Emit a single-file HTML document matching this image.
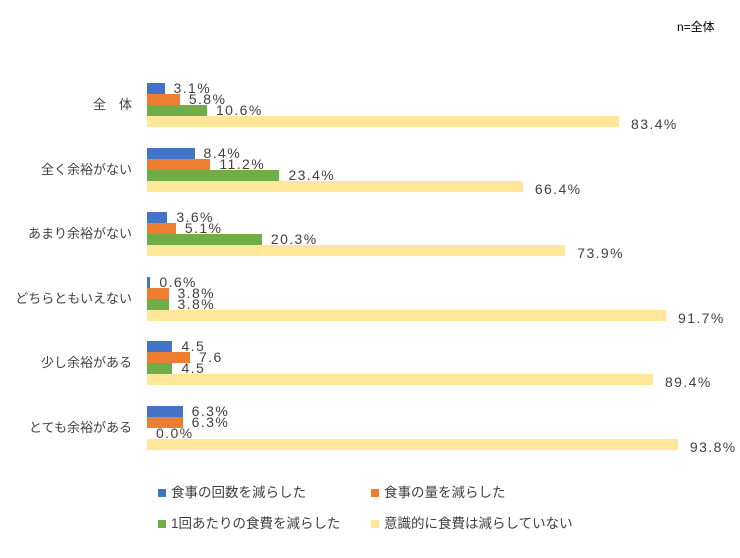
<!DOCTYPE html><html><head><meta charset="utf-8"><style>
body{margin:0;background:#fff;width:740px;height:558px;overflow:hidden;font-family:"Liberation Sans","Noto Sans CJK JP",sans-serif;color:#404040}
.a{position:absolute}
.b{position:absolute;height:11px}
.t{position:absolute;font-size:14px;line-height:14px;white-space:nowrap;letter-spacing:1.4px}
.l{position:absolute;font-size:13.5px;line-height:14px;white-space:nowrap}
.c{position:absolute;font-size:13px;right:608px;white-space:nowrap;line-height:14px}
</style></head><body>
<div class="l" style="left:677px;top:20px;color:#000;font-size:12px">n=全体</div>
<div id="g"></div>
<div class="a" style="left:158px;top:489px;width:8px;height:8px;background:#4472c4"></div><div class="l" style="left:171px;top:486px">食事の回数を減らした</div>
<div class="a" style="left:371px;top:489px;width:8px;height:8px;background:#ed7d31"></div><div class="l" style="left:384px;top:486px">食事の量を減らした</div>
<div class="a" style="left:158px;top:520px;width:8px;height:8px;background:#70ad47"></div><div class="l" style="left:171px;top:517px">1回あたりの食費を減らした</div>
<div class="a" style="left:371px;top:520px;width:8px;height:8px;background:#ffe699"></div><div class="l" style="left:384px;top:517px">意識的に食費は減らしていない</div>
<script>
var d=[["全　体",[3.1,5.8,10.6,83.4],["3.1%","5.8%","10.6%","83.4%"]],
["全く余裕がない",[8.4,11.2,23.4,66.4],["8.4%","11.2%","23.4%","66.4%"]],
["あまり余裕がない",[3.6,5.1,20.3,73.9],["3.6%","5.1%","20.3%","73.9%"]],
["どちらともいえない",[0.6,3.8,3.8,91.7],["0.6%","3.8%","3.8%","91.7%"]],
["少し余裕がある",[4.5,7.6,4.5,89.4],["4.5","7.6","4.5","89.4%"]],
["とても余裕がある",[6.3,6.3,0,93.8],["6.3%","6.3%","0.0%","93.8%"]]];
var col=["#4472c4","#ed7d31","#70ad47","#ffe699"],h="";
d.forEach(function(g,i){var y0=83+i*64.6;
h+='<div class="c" style="top:'+(y0+15)+'px">'+g[0]+'</div>';
g[1].forEach(function(v,j){var y=y0+j*11,w=v*5.66;
h+='<div class="b" style="left:147px;top:'+y+'px;width:'+w+'px;background:'+col[j]+'"></div>';
h+='<div class="t" style="left:'+(147+w+(j==3?12:9))+'px;top:'+(y-(j==3?-1:2))+'px">'+g[2][j]+'</div>';});});
document.getElementById('g').innerHTML=h;
</script></body></html>
